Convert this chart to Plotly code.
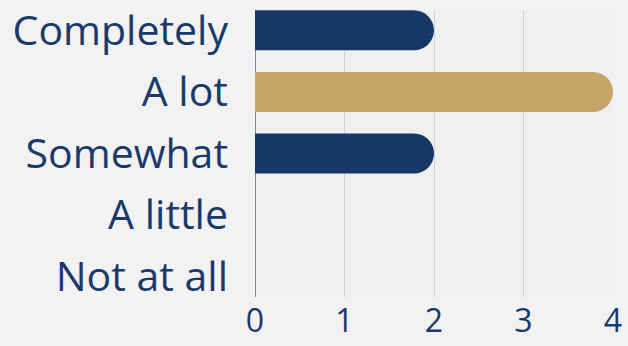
import plotly.graph_objects as go

# Survey responses: how much each answer was chosen
categories = ["Completely", "A lot", "Somewhat", "A little", "Not at all"]
counts = [2, 4, 2, 0, 0]
bar_colors = ["#173766", "#c5a668", "#173766", "#173766", "#173766"]
x_ticks = [0, 1, 2, 3, 4]

navy_text = "#1a3a6b"

fig = go.Figure(
    go.Bar(
        x=counts,
        y=categories,
        orientation="h",
        width=0.65,
        marker=dict(color=bar_colors, cornerradius="50%", line=dict(width=0)),
        hoverinfo="x+y",
    )
)

fig.update_layout(
    width=628,
    height=346,
    margin=dict(l=255, r=15, t=10, b=49),
    paper_bgcolor="#f2f2f2",
    plot_bgcolor="#f0f0f0",
    showlegend=False,
    font=dict(family="Open Sans, Lato, sans-serif", color=navy_text),
)

fig.update_xaxes(
    range=[0, 4],
    tickvals=x_ticks,
    ticktext=[str(v) for v in x_ticks],
    tickfont=dict(size=32, color=navy_text),
    showgrid=True,
    gridcolor="#c9d1db",
    gridwidth=1,
    zeroline=True,
    zerolinecolor="#7d8aa5",
    zerolinewidth=1,
    showline=False,
    ticks="",
    ticklabelstandoff=2,
    automargin=False,
    fixedrange=True,
)

fig.update_yaxes(
    categoryorder="array",
    categoryarray=categories,
    range=[4.33, -0.33],
    tickfont=dict(size=41, color=navy_text),
    showgrid=False,
    zeroline=False,
    showline=False,
    ticks="",
    ticklabelstandoff=26,
    automargin=False,
    fixedrange=True,
)

fig.write_html("out.html", config={"displayModeBar": False})
